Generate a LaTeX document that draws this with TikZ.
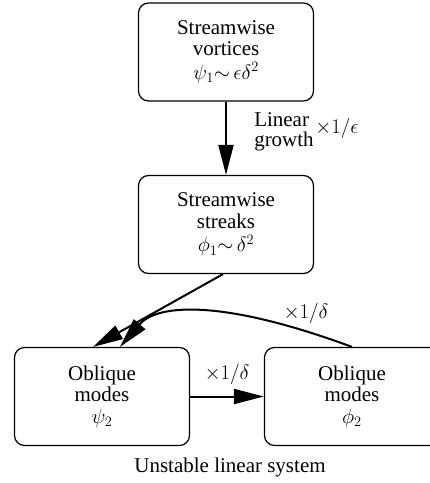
\documentclass[tikz,border=0pt]{standalone}
\usepackage{amsmath,amssymb}
\usepackage{fontspec}
\setmainfont{Liberation Serif}
\usetikzlibrary{arrows.meta}

\begin{document}
\begin{tikzpicture}[
  x=1pt, y=1pt,
  every node/.style={font=\fontsize{21}{21.5}\selectfont, align=center},
  mode/.style={draw, line width=1.2pt, rounded corners=10pt, minimum width=175pt, minimum height=98pt},
  flow/.style={line width=2pt, -{Triangle[length=30pt,width=15pt]}},
  factor/.style={inner sep=1pt}
]
\clip (0,0) rectangle (430,-483);

% Streamwise part
\node[mode] (vort) at (226,-52) {Streamwise\\vortices\\[2pt]$\psi_1{\sim}\,\epsilon\delta^2$};
\node[mode] (streak) at (226,-224.5) {Streamwise\\streaks\\[2pt]$\phi_1{\sim}\,\delta^2$};

% Oblique modes
\node[mode] (psi) at (102,-396.5) {Oblique\\modes\\$\psi_2$};
\node[mode] (phi) at (352,-396.5) {Oblique\\modes\\$\phi_2$};

\node (unstable) at (230,-467) {Unstable linear system};

% Arrows
\draw[flow] (vort) -- (streak);
\node[factor, align=left, font=\fontsize{21}{20.5}\selectfont] (growth) at (284,-132) {Linear\\growth};
\node[factor] (epsfac) at (337,-128) {$\times 1/\epsilon$};

\draw[flow] ([xshift=-3pt]streak.south) -- ([xshift=-9pt]psi.north);
\draw[flow] (phi.north) .. controls (225,-300) and (158,-303) .. ([xshift=18pt]psi.north);
\node[factor] (backfac) at (306,-313) {$\times 1/\delta$};

\draw[flow] (psi.east) -- (phi.west);
\node[factor] (fwdfac) at (227,-374) {$\times 1/\delta$};
\end{tikzpicture}
\end{document}
